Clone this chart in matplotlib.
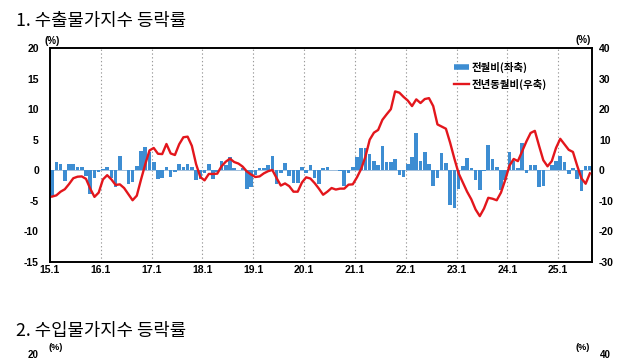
import numpy as np
import matplotlib
matplotlib.use('Agg')
import matplotlib.pyplot as plt
from matplotlib.lines import Line2D

plt.rcParams['font.family'] = ['Noto Sans CJK KR', 'DejaVu Sans']
plt.rcParams['axes.unicode_minus'] = False

# ---------------------
# Data (monthly, 2015.1 ~ 2025.8)
# ---------------------
year_labels = ['15.1', '16.1', '17.1', '18.1', '19.1', '20.1',
               '21.1', '22.1', '23.1', '24.1', '25.1']

# 전월비 (left axis, %)
mom = [
    -4.3, 1.3, 1.0, -1.8, 1.1, 1.1, 0.5, 0.5, -0.9, -3.8, -1.2, -0.2,   # 2015
    0.2, 0.6, -1.3, -2.8, 2.3, 0.0, -2.2, -1.9, 0.7, 3.2, 3.8, 3.0,     # 2016
    1.3, -1.5, -1.2, 0.6, -1.1, -0.3, 1.0, 0.5, 1.0, 0.5, -1.6, -1.4,   # 2017
    -0.5, 1.1, -1.4, -0.2, 1.5, 0.8, 2.2, 0.3, 0.1, 0.4, -3.0, -2.8,    # 2018
    -0.7, 0.4, 0.3, 0.8, 2.4, -2.2, -0.4, 1.2, -0.9, -2.1, -2.1, 0.5,   # 2019
    -0.5, 0.8, -1.2, -2.2, 0.4, 0.5, 0.1, 0.0, -0.1, -2.5, -0.5, 0.5,   # 2020
    2.1, 3.6, 3.6, 2.6, 1.6, 0.9, 3.9, 1.4, 1.4, 1.9, -0.8, -1.1,       # 2021
    1.0, 2.1, 6.1, 1.5, 3.0, 1.0, -2.5, -1.3, 2.9, 1.2, -5.6, -6.2,     # 2022
    -3.0, 0.7, 2.0, 0.3, -1.6, -3.3, -0.1, 4.1, 1.8, 0.6, -3.3, -1.6,   # 2023
    3.0, 1.6, 0.4, 4.5, -0.5, 0.8, 0.8, -2.8, -2.6, 0.1, 0.9, 1.6,      # 2024
    2.3, 1.4, -0.6, 0.3, -1.5, -3.4, 0.7, 0.7,                          # 2025
]

# 전년동월비 (right axis, %)
yoy = [
    -8.6, -8.2, -7.0, -6.2, -4.5, -2.6, -2.1, -2.0, -2.8, -6.0, -8.7, -7.3,
    -3.0, -1.6, -3.0, -4.8, -4.6, -5.8, -7.8, -9.8, -8.3, -3.0, 2.0, 6.5,
    7.3, 5.4, 5.3, 8.6, 5.5, 5.0, 8.5, 10.8, 11.0, 8.0, 2.0, -2.2,
    -3.3, -1.2, -1.2, -1.1, 1.3, 2.8, 3.8, 2.7, 2.2, 1.2, -0.4, -1.4,
    -2.2, -2.0, -1.0, -0.3, 0.1, -2.5, -5.0, -4.3, -5.2, -7.0, -7.0, -4.0,
    -2.3, -2.7, -4.2, -6.0, -8.0, -7.0, -5.8, -6.3, -6.0, -6.0, -4.7, -4.6,
    -2.3, 0.5, 4.5, 10.0, 12.3, 13.2, 16.5, 18.3, 20.0, 25.8, 25.4, 24.0,
    22.8, 21.0, 23.2, 22.0, 23.3, 23.6, 21.0, 15.0, 14.3, 13.6, 9.0, 3.8,
    -1.0, -4.0, -7.0, -9.5, -12.8, -15.0, -12.5, -9.0, -9.3, -9.8, -7.3, -3.2,
    1.5, 3.7, 3.0, 6.2, 9.4, 12.2, 12.9, 8.0, 3.3, 1.3, 3.0, 7.3,
    10.3, 8.5, 6.7, 6.0, 1.5, -2.6, -4.4, -1.0,
]

bar_color = '#3d8dd2'
line_color = '#e3161c'
tick_font = dict(family='Liberation Sans', weight='bold', size=7.5)

n = len(mom)
x = np.arange(n) + 0.5

fig = plt.figure(figsize=(6.4, 3.6), dpi=100)
ax = fig.add_axes([50 / 640, 98 / 360, 542 / 640, 214 / 360])

# year gridlines
for t in range(12, n, 12):
    ax.axvline(t, color='#9a9a9a', lw=0.8, ls=(0, (1.2, 2.2)), zorder=0)
ax.axhline(0, color='#8fb3d6', lw=0.6, zorder=1)

ax.bar(x, mom, width=0.85, color=bar_color, zorder=2)
ax.set_xlim(0, n)
ax.set_ylim(-15, 20)
ax.set_yticks(range(-15, 21, 5))
ax.set_xticks(range(0, n, 12))
ax.set_xticklabels(year_labels)

ax2 = ax.twinx()
ax2.plot(x, yoy, color=line_color, lw=1.7, zorder=3)
ax2.set_ylim(-30, 40)
ax2.set_yticks(range(-30, 41, 10))

for a in (ax, ax2):
    for s in a.spines.values():
        s.set_linewidth(1.2)
        s.set_color('black')
ax.tick_params(axis='x', length=0, pad=2)
ax.tick_params(axis='y', length=0, pad=8)
ax2.tick_params(axis='y', length=0, pad=5)
for lab in ax.get_xticklabels() + ax.get_yticklabels() + ax2.get_yticklabels():
    lab.set_fontproperties(tick_font)

# unit labels
fig.text(52 / 640, 1 - 41 / 360, '(%)', ha='center', va='center',
         fontsize=7, fontweight='bold', family='Liberation Sans')
fig.text(583 / 640, 1 - 40 / 360, '(%)', ha='center', va='center',
         fontsize=7, fontweight='bold', family='Liberation Sans')

# legend
handles = [Line2D([], [], color=bar_color, lw=4, solid_capstyle='butt'),
           Line2D([], [], color=line_color, lw=1.7)]
ax.legend(handles, ['전월비(좌축)', '전년동월비(우축)'],
          loc='upper left', bbox_to_anchor=(0.735, 0.96),
          frameon=False, borderpad=0, handlelength=1.5,
          handletextpad=0.2, labelspacing=0.55,
          prop=dict(family='Noto Sans CJK KR', weight='bold', size=7.5))

# titles
fig.text(16 / 640, 1 - 21 / 360, '1. 수출물가지수 등락률',
         ha='left', va='center', fontsize=12.8)
fig.text(16 / 640, 1 - 331 / 360, '2. 수입물가지수 등락률',
         ha='left', va='center', fontsize=12.8)

# top of second panel
fig.text(56 / 640, 1 - 347 / 360, '(%)', ha='center', va='center',
         fontsize=6.5, fontweight='bold', family='Liberation Sans')
fig.text(583 / 640, 1 - 347 / 360, '(%)', ha='center', va='center',
         fontsize=6.5, fontweight='bold', family='Liberation Sans')
fig.text(38 / 640, 1 - 355 / 360, '20', ha='right', va='center',
         fontsize=7, fontweight='bold', family='Liberation Sans')
fig.text(600 / 640, 1 - 355 / 360, '40', ha='left', va='center',
         fontsize=7, fontweight='bold', family='Liberation Sans')

fig.savefig('out.png', dpi=100)
